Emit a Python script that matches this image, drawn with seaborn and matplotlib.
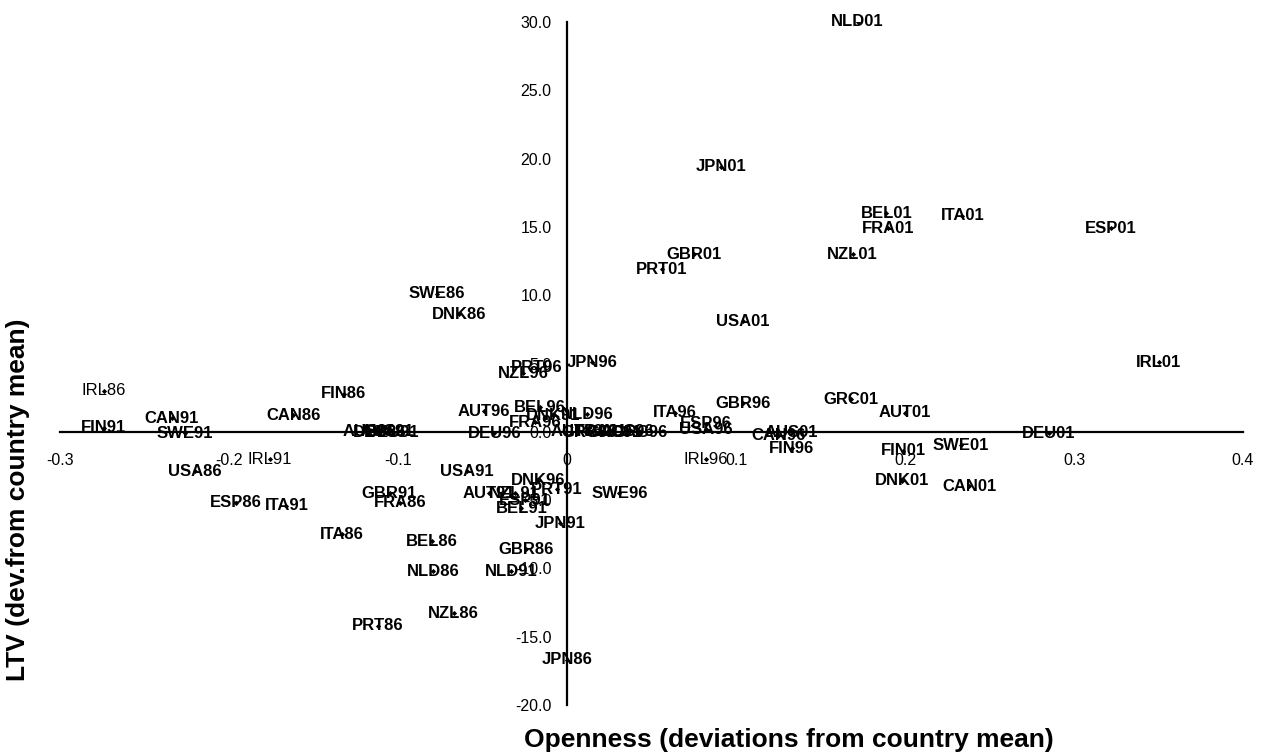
import pandas as pd
import numpy as np
import matplotlib
matplotlib.use("Agg")
import matplotlib.pyplot as plt
import seaborn as sns
from matplotlib.ticker import FuncFormatter

# country-year labels and their deviations from country means
labels = [
    "NLD01", "JPN01", "BEL01", "ITA01", "FRA01", "ESP01", "GBR01", "NZL01", "PRT01", "USA01",
    "IRL01", "GRC01", "AUT01", "DEU01", "SWE01", "FIN01", "DNK01", "CAN01", "AUS01",
    "SWE86", "DNK86", "PRT96", "NZL96", "JPN96", "IRL86", "FIN86", "CAN91", "CAN86",
    "FIN91", "SWE91", "AUT96", "BEL96", "FRA96", "DNK91", "NLD96", "DEU96", "ITA96",
    "GBR96", "ESP96", "USA96", "CAN96", "FIN96", "IRL96", "IRL91", "USA86", "USA91",
    "DNK96", "PRT91", "SWE96", "ESP86", "ITA91", "GBR91", "FRA86", "AUT91", "NZL91",
    "ESP91", "BEL91", "JPN91", "ITA86", "BEL86", "GBR86", "NLD86", "NLD91", "NZL86",
    "PRT86", "JPN86",
    "AUS86", "DEU86", "AUS91", "DEU91",
    "AUT86", "GRC86", "FRA91", "GRC91", "AUS96", "GRC96",
]
openness = [
    0.172, 0.091, 0.189, 0.234, 0.190, 0.322, 0.075, 0.169, 0.056, 0.104,
    0.350, 0.168, 0.200, 0.285, 0.233, 0.199, 0.198, 0.238, 0.133,
    -0.077, -0.064, -0.018, -0.026, 0.015, -0.274, -0.132, -0.234, -0.162,
    -0.274, -0.226, -0.049, -0.016, -0.019, -0.008, 0.012, -0.043, 0.064,
    0.104, 0.082, 0.082, 0.125, 0.133, 0.082, -0.176, -0.220, -0.059,
    -0.017, -0.006, 0.031, -0.196, -0.166, -0.105, -0.099, -0.046, -0.031,
    -0.025, -0.027, -0.004, -0.133, -0.080, -0.024, -0.079, -0.033, -0.067,
    -0.112, 0.000,
    -0.117, -0.111, -0.106, -0.103,
    0.006, 0.013, 0.020, 0.028, 0.036, 0.043,
]
ltv = [
    30.0, 19.4, 16.0, 15.8, 14.9, 14.9, 13.0, 13.0, 11.9, 8.1,
    5.1, 2.4, 1.4, -0.1, -1.0, -1.4, -3.6, -4.0, -0.05,
    10.1, 8.6, 4.7, 4.3, 5.1, 3.0, 2.8, 1.0, 1.2,
    0.3, -0.1, 1.5, 1.8, 0.7, 1.2, 1.3, -0.1, 1.4,
    2.1, 0.6, 0.2, -0.3, -1.2, -2.0, -2.0, -2.9, -2.9,
    -3.6, -4.2, -4.5, -5.2, -5.4, -4.5, -5.2, -4.5, -4.5,
    -5.0, -5.6, -6.7, -7.5, -8.0, -8.6, -10.2, -10.2, -13.3,
    -14.2, -16.7,
    0.0, -0.05, 0.0, -0.05,
    0.0, -0.05, 0.0, -0.05, 0.0, -0.05,
]
light_labels = {"IRL86", "IRL91", "IRL96"}

df = pd.DataFrame({"label": labels, "openness": openness, "ltv": ltv})

sns.set_style("white")
plt.rcParams["font.family"] = ["Liberation Sans", "DejaVu Sans"]

fig = plt.figure(figsize=(12.63, 7.53), dpi=100)
ax = fig.add_axes([60 / 1263, 48 / 753, (1243 - 60) / 1263, (705 - 22) / 753])

sns.scatterplot(data=df, x="openness", y="ltv", ax=ax, marker="D", s=7,
                color="black", edgecolor="black", linewidth=0, zorder=3)

for lab, xv, yv in zip(df["label"], df["openness"], df["ltv"]):
    ax.text(xv, yv, lab, ha="center", va="center", fontsize=12,
            fontweight="normal" if lab in light_labels else "bold",
            color="black", zorder=4)

ax.set_xlim(-0.3, 0.4)
ax.set_ylim(-20, 30)
ax.set_xticks(np.arange(-0.3, 0.41, 0.1))
ax.set_yticks(np.arange(-20, 31, 5))
ax.xaxis.set_major_formatter(FuncFormatter(lambda v, p: f"{round(v, 1):g}"))
ax.yaxis.set_major_formatter(FuncFormatter(lambda v, p: f"{v:.1f}"))

for side in ["top", "right"]:
    ax.spines[side].set_visible(False)
ax.spines["left"].set_position(("data", 0))
ax.spines["bottom"].set_position(("data", 0))
for side in ["left", "bottom"]:
    ax.spines[side].set_linewidth(1.6)
    ax.spines[side].set_color("black")

ax.tick_params(axis="x", direction="out", length=4, width=1, pad=11,
               labelsize=11.5, colors="black")
ax.tick_params(axis="y", direction="out", length=5, width=1, pad=6,
               labelsize=11.5, colors="black")
ax.set_xlabel("")
ax.set_ylabel("")
ax.grid(False)

fig.text(789 / 1263, 1 - 740 / 753, "Openness (deviations from country mean)",
         ha="center", va="center", fontsize=19, fontweight="bold", color="black")
fig.text(18 / 1263, 1 - 500 / 753, "LTV (dev.from country mean)",
         ha="center", va="center", rotation=90, fontsize=19, fontweight="bold",
         color="black")

fig.savefig("out.png", dpi=100, facecolor="white")
